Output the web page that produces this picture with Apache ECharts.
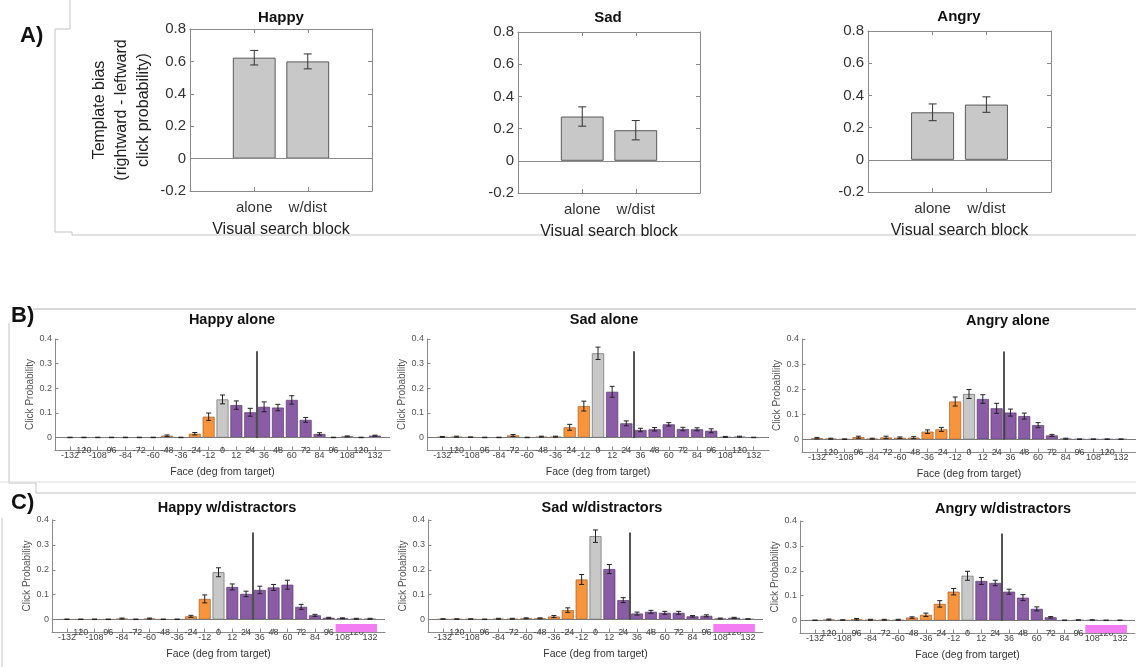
<!DOCTYPE html>
<html><head><meta charset="utf-8">
<script src="https://cdn.jsdelivr.net/npm/echarts@6/dist/echarts.min.js"></script>
<style>html,body{margin:0;padding:0;background:#fff}#c{width:1136px;height:667px}</style>
</head><body><div id="c"></div>
<script>
// ---------- data ----------
const blockCats = ['alone', 'w/dist'];
const blockX = [1, 2];
const biasHappy = [0.623, 0.600];
const biasHappyErr = [0.045, 0.046];
const biasSad = [0.275, 0.190];
const biasSadErr = [0.060, 0.060];
const biasAngry = [0.295, 0.343];
const biasAngryErr = [0.052, 0.048];

const faceTicks = [-132,-120,-108,-96,-84,-72,-60,-48,-36,-24,-12,0,12,24,36,48,60,72,84,96,108,120,132];
const faceLabels = ['-132','120','-108','96','-84','-72','-60','-48','-36','-24','-12','0','12','24','36','48','60','72','84','96','108','120','132'];
const probTicks = [0, 0.1, 0.2, 0.3, 0.4];

const happyAlone    = [0.001,0.001,0.001,0.001,0.001,0.001,0.001,0.008,0.001,0.016,0.085,0.155,0.132,0.103,0.125,0.122,0.153,0.072,0.015,0.001,0.005,0.001,0.008];
const happyAloneErr = [0.001,0.001,0.001,0.001,0.001,0.001,0.001,0.003,0.001,0.005,0.015,0.018,0.017,0.016,0.020,0.013,0.017,0.010,0.005,0.001,0.002,0.001,0.002];
const sadAlone      = [0.003,0.004,0.002,0.001,0.001,0.009,0.001,0.004,0.004,0.042,0.128,0.342,0.186,0.058,0.031,0.034,0.054,0.035,0.034,0.028,0.003,0.004,0.001];
const sadAloneErr   = [0.002,0.002,0.001,0.001,0.001,0.004,0.001,0.002,0.002,0.012,0.020,0.025,0.022,0.010,0.007,0.007,0.007,0.007,0.006,0.008,0.002,0.002,0.001];
const angryAlone    = [0.005,0.003,0.001,0.009,0.003,0.008,0.007,0.007,0.031,0.040,0.151,0.181,0.161,0.124,0.107,0.093,0.057,0.016,0.003,0.001,0.001,0.001,0.001];
const angryAloneErr = [0.003,0.002,0.001,0.004,0.002,0.005,0.003,0.004,0.007,0.008,0.018,0.018,0.017,0.020,0.014,0.012,0.010,0.004,0.002,0.001,0.001,0.001,0.001];
const happyDist     = [0.001,0.001,0.001,0.001,0.004,0.001,0.004,0.001,0.001,0.013,0.083,0.190,0.131,0.103,0.119,0.129,0.140,0.051,0.017,0.007,0.005,0.003,0.003];
const happyDistErr  = [0.001,0.001,0.001,0.001,0.002,0.001,0.002,0.001,0.001,0.004,0.016,0.018,0.012,0.011,0.015,0.012,0.018,0.010,0.004,0.002,0.002,0.002,0.002];
const sadDist       = [0.002,0.002,0.002,0.001,0.003,0.003,0.005,0.005,0.012,0.038,0.161,0.335,0.203,0.078,0.024,0.031,0.027,0.027,0.013,0.015,0.004,0.007,0.002];
const sadDistErr    = [0.001,0.001,0.001,0.001,0.002,0.002,0.002,0.002,0.004,0.009,0.020,0.025,0.018,0.010,0.006,0.006,0.006,0.006,0.003,0.004,0.002,0.002,0.001];
const angryDist     = [0.001,0.004,0.002,0.005,0.003,0.003,0.003,0.012,0.023,0.067,0.116,0.180,0.159,0.151,0.116,0.092,0.047,0.013,0.001,0.002,0.002,0.001,0.001];
const angryDistErr  = [0.001,0.002,0.001,0.003,0.002,0.002,0.002,0.003,0.007,0.013,0.013,0.018,0.014,0.011,0.010,0.012,0.008,0.003,0.001,0.001,0.001,0.001,0.001];

const templateLineX = 30;
const templateLineTop = 0.35;

// ---------- layout ----------
const FONT = "'Liberation Sans', Arial, Helvetica, sans-serif";
const panelsA = [
  {title:'Happy', vals:biasHappy, err:biasHappyErr, g:{left:190, top:29, width:182, height:162}, tx:281, ty:18, yname:true},
  {title:'Sad',   vals:biasSad,   err:biasSadErr,   g:{left:518, top:32, width:182, height:161}, tx:608, ty:18},
  {title:'Angry', vals:biasAngry, err:biasAngryErr, g:{left:868, top:31, width:183, height:161}, tx:959, ty:17}
];
const panelsBC = [
  {title:'Happy alone', vals:happyAlone, err:happyAloneErr, g:{left:55,  top:339, width:335, height:111}, tx:232, ty:320},
  {title:'Sad alone',   vals:sadAlone,   err:sadAloneErr,   g:{left:427, top:339, width:342, height:111}, tx:604, ty:320},
  {title:'Angry alone', vals:angryAlone, err:angryAloneErr, g:{left:802, top:339, width:337, height:113}, tx:1008, ty:321},
  {title:'Happy w/distractors', vals:happyDist, err:happyDistErr, g:{left:52,  top:520, width:333, height:112}, tx:227, ty:508, pink:true},
  {title:'Sad w/distractors',   vals:sadDist,   err:sadDistErr,   g:{left:428, top:520, width:335, height:112}, tx:602, ty:508, pink:true},
  {title:'Angry w/distractors', vals:angryDist, err:angryDistErr, g:{left:800, top:521, width:335, height:112}, tx:1003, ty:509, pink:true}
];

const grids = [], xAxes = [], yAxes = [], series = [], graphics = [];

function errRender(cap, color){
  return function(params, api){
    const x = api.value(0), lo = api.value(1), hi = api.value(2);
    const p1 = api.coord([x, lo]), p2 = api.coord([x, hi]);
    const st = {stroke: color, lineWidth: 1};
    return {type:'group', children:[
      {type:'line', shape:{x1:p1[0], y1:p1[1], x2:p2[0], y2:p2[1]}, style:st},
      {type:'line', shape:{x1:p1[0]-cap, y1:p1[1], x2:p1[0]+cap, y2:p1[1]}, style:st},
      {type:'line', shape:{x1:p2[0]-cap, y1:p2[1], x2:p2[0]+cap, y2:p2[1]}, style:st}
    ]};
  };
}

// ---- Panel A ----
const AXMIN = -0.2, AXMAX = 3.2;
panelsA.forEach((p) => {
  const gi = grids.length;
  grids.push(Object.assign({containLabel:false}, p.g));
  const xi = xAxes.length, yi = yAxes.length;
  const axLine = {show:true, onZero:false, lineStyle:{color:'#8a8a8a', width:1}};
  xAxes.push({type:'value', gridIndex:gi, min:AXMIN, max:AXMAX, position:'bottom',
    axisLine:axLine, splitLine:{show:false},
    axisTick:{show:true, inside:true, length:4, customValues:blockX, lineStyle:{color:'#8a8a8a'}},
    axisLabel:{show:true, customValues:blockX, margin:9, fontSize:15, color:'#333', fontFamily:FONT,
      showMinLabel:true, showMaxLabel:true,
      formatter:(v)=> blockCats[Math.round(v)-1] || ''},
    name:'Visual search block', nameLocation:'middle', nameGap:31,
    nameTextStyle:{fontSize:16, color:'#222', fontFamily:FONT}});
  xAxes.push({type:'value', gridIndex:gi, min:AXMIN, max:AXMAX, position:'top',
    axisLine:axLine, splitLine:{show:false},
    axisTick:{show:true, inside:true, length:4, customValues:blockX, lineStyle:{color:'#8a8a8a'}},
    axisLabel:{show:false}});
  const yName = p.yname ? {name:'Template bias\n(rightward - leftward\nclick probability)', nameLocation:'middle',
    nameRotate:90, nameGap:35, nameTextStyle:{fontSize:16, lineHeight:22, color:'#222', fontFamily:FONT, align:'center'}} : {};
  yAxes.push(Object.assign({type:'value', gridIndex:gi, min:-0.2, max:0.8, interval:0.2, position:'left',
    axisLine:axLine, splitLine:{show:false},
    axisTick:{show:true, inside:true, length:4, lineStyle:{color:'#8a8a8a'}},
    axisLabel:{fontSize:15, color:'#333', margin:4, fontFamily:FONT}}, yName));
  yAxes.push({type:'value', gridIndex:gi, min:-0.2, max:0.8, interval:0.2, position:'right',
    axisLine:axLine, splitLine:{show:false},
    axisTick:{show:true, inside:true, length:4, lineStyle:{color:'#8a8a8a'}},
    axisLabel:{show:false}});
  const bw = 0.8 / (AXMAX - AXMIN) * p.g.width;
  series.push({type:'bar', xAxisIndex:xi, yAxisIndex:yi, barWidth:bw,
    data: blockX.map((x, j) => [x, p.vals[j]]),
    itemStyle:{color:'#c8c8c8', borderColor:'#5a5a5a', borderWidth:1},
    markLine:{silent:true, symbol:['none','none'], label:{show:false}, animation:false,
      lineStyle:{color:'#8a8a8a', type:'solid', width:1}, data:[{yAxis:0}]}});
  series.push({type:'custom', xAxisIndex:xi, yAxisIndex:yi, renderItem:errRender(4, '#333'),
    encode:{x:0, y:[1,2]}, z:5,
    data: blockX.map((x, j) => [x, p.vals[j]-p.err[j], p.vals[j]+p.err[j]])});
  graphics.push({type:'text', x:p.tx, y:p.ty, style:{text:p.title, font:'bold 15px '+FONT, fill:'#111', textAlign:'center', textVerticalAlign:'middle'}});
});

// ---- Panels B & C ----
const FXMIN = -145, FXMAX = 145;
const evenTicks = faceTicks.filter((t, i) => i % 2 === 0);
const oddTicks = faceTicks.filter((t, i) => i % 2 === 1);
const faceFmt = (v) => faceLabels[faceTicks.indexOf(Math.round(v))] || '';
function faceColor(x){ return x < 0 ? '#f7943c' : (x === 0 ? '#c8c8c8' : '#8b5ca6'); }
function faceBorder(x){ return x < 0 ? '#a8602a' : (x === 0 ? '#6a6a6a' : '#5a3a70'); }
panelsBC.forEach((p) => {
  const gi = grids.length;
  grids.push(Object.assign({containLabel:false}, p.g));
  const xi = xAxes.length, yi = yAxes.length;
  const axLine = {show:true, onZero:false, lineStyle:{color:'#8a8a8a', width:1}};
  // main x axis: line, ticks, lower-row labels
  xAxes.push({type:'value', gridIndex:gi, min:FXMIN, max:FXMAX, position:'bottom',
    axisLine:axLine, splitLine:{show:false},
    axisTick:{show:true, inside:true, length:3.5, customValues:faceTicks, lineStyle:{color:'#8a8a8a'}},
    axisLabel:{show:true, customValues:evenTicks, margin:1.5, fontSize:9, color:'#444', fontFamily:FONT,
      showMinLabel:true, showMaxLabel:true, formatter:faceFmt},
    name:'Face (deg from target)', nameLocation:'middle', nameGap:17,
    nameTextStyle:{fontSize:10.5, color:'#333', fontFamily:FONT}});
  // companion x axis: raised (staggered) labels only
  xAxes.push({type:'value', gridIndex:gi, min:FXMIN, max:FXMAX, position:'bottom', offset:0,
    axisLine:{show:false, onZero:false}, splitLine:{show:false}, axisTick:{show:false},
    axisLabel:{show:true, customValues:oddTicks, margin:-4, fontSize:9, color:'#444', fontFamily:FONT,
      showMinLabel:true, showMaxLabel:true, formatter:faceFmt}});
  yAxes.push({type:'value', gridIndex:gi, min:-0.05, max:0.4, position:'left',
    axisLine:axLine, splitLine:{show:false},
    axisTick:{show:true, inside:true, length:3.5, customValues:probTicks, lineStyle:{color:'#8a8a8a'}},
    axisLabel:{show:true, customValues:probTicks, fontSize:9, color:'#555', margin:3, fontFamily:FONT,
      showMinLabel:true, showMaxLabel:true},
    name:'Click Probability', nameLocation:'middle', nameRotate:90, nameGap:19,
    nameTextStyle:{fontSize:10, color:'#555', fontFamily:FONT}});
  const bw = 0.86 * 12 / (FXMAX - FXMIN) * p.g.width;
  const ser = {type:'bar', xAxisIndex:xi, yAxisIndex:yi, barWidth:bw,
    data: faceTicks.map((x, j) => ({value:[x, p.vals[j]],
      itemStyle:{color:faceColor(x), borderColor:faceBorder(x), borderWidth:0.7}})),
    markLine:{silent:true, symbol:['none','none'], label:{show:false}, animation:false,
      data:[
        {yAxis:0, lineStyle:{color:'#7a7a7a', type:'solid', width:1}},
        [{coord:[templateLineX, 0], lineStyle:{color:'#2a2a2a', type:'solid', width:1.6}},
         {coord:[templateLineX, templateLineTop]}]
      ]}};
  if (p.pink) {
    ser.markArea = {silent:true, itemStyle:{color:'#f47cf2'},
      data:[[{coord:[102, -0.018]}, {coord:[138, -0.05]}]]};
  }
  series.push(ser);
  series.push({type:'custom', xAxisIndex:xi, yAxisIndex:yi, renderItem:errRender(2.5, '#222'),
    encode:{x:0, y:[1,2]}, z:5,
    data: faceTicks.map((x, j) => [x, p.vals[j]-p.err[j], p.vals[j]+p.err[j]])});
  graphics.push({type:'text', x:p.tx, y:p.ty, style:{text:p.title, font:'bold 14.5px '+FONT, fill:'#111', textAlign:'center', textVerticalAlign:'middle'}});
});

// panel letters
graphics.push({type:'text', x:20, y:36, style:{text:'A)', font:'bold 22px '+FONT, fill:'#111', textVerticalAlign:'middle'}});
graphics.push({type:'text', x:11, y:316, style:{text:'B)', font:'bold 22px '+FONT, fill:'#111', textVerticalAlign:'middle'}});
graphics.push({type:'text', x:11, y:503, style:{text:'C)', font:'bold 22px '+FONT, fill:'#111', textVerticalAlign:'middle'}});

// faint panel frames (composite figure borders)
const frame = {stroke:'#c4c4c4', lineWidth:1, fill:null};
graphics.push({type:'polyline', z:-10, shape:{points:[[70,0],[70,29],[55,29],[55,232],[72,232],[72,235],[1136,235]]}, style:frame});
graphics.push({type:'polyline', z:-10, shape:{points:[[33,309],[1136,309]]}, style:{stroke:'#b0b0b0', lineWidth:1.2}});
graphics.push({type:'polyline', z:-10, shape:{points:[[9,323],[9,483],[36,483],[36,493],[1136,493]]}, style:frame});
graphics.push({type:'polyline', z:-10, shape:{points:[[0,482],[1136,482]]}, style:{stroke:'#dadada', lineWidth:1}});
graphics.push({type:'polyline', z:-10, shape:{points:[[2,518],[2,667]]}, style:frame});

const chart = echarts.init(document.getElementById('c'), null, {renderer:'canvas'});
chart.setOption({
  animation:false,
  backgroundColor:'#ffffff',
  textStyle:{fontFamily:FONT},
  grid:grids, xAxis:xAxes, yAxis:yAxes, series:series,
  graphic:{elements:graphics}
});
</script></body></html>
